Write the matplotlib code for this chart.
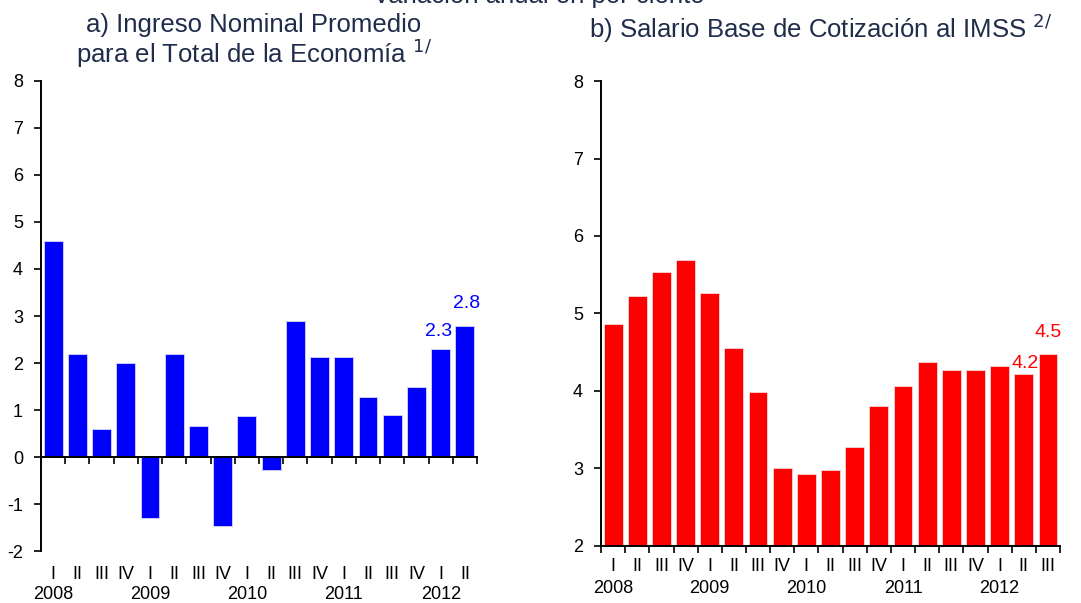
import matplotlib.pyplot as plt
import numpy as np
from matplotlib import transforms

plt.rcParams['font.family'] = ['Liberation Sans', 'DejaVu Sans']
plt.rcParams['axes.unicode_minus'] = False

# a) Ingreso nominal promedio, 2008 I - 2012 II
ingreso = [4.6, 2.2, 0.6, 2.0, -1.3, 2.2, 0.65, -1.47, 0.87, -0.28,
           2.9, 2.13, 2.13, 1.28, 0.9, 1.5, 2.3, 2.78]
# b) Salario base de cotizacion al IMSS, 2008 I - 2012 III
salario = [4.86, 5.22, 5.53, 5.69, 5.27, 4.55, 3.99, 3.01, 2.93, 2.98,
           3.27, 3.81, 4.06, 4.37, 4.27, 4.27, 4.32, 4.22, 4.48]
quarters = ['I', 'II', 'III', 'IV']
years = ['2008', '2009', '2010', '2011', '2012']

title_color = '#1F2D4A'


def draw_panel(ax, values, color, edge, ymin, ymax, labels, lab_y_q, lab_y_year):
    n = len(values)
    x = np.arange(n)
    ax.bar(x, values, width=0.78, color=color, edgecolor=edge, linewidth=0.6, zorder=2)
    ax.set_xlim(-0.5, n - 0.5)
    ax.set_ylim(ymin, ymax)
    ax.set_yticks(range(ymin, ymax + 1))
    for s in ['top', 'right']:
        ax.spines[s].set_visible(False)
    ax.spines['left'].set_linewidth(1.4)
    ax.spines['bottom'].set_linewidth(1.4)
    if ymin < 0:
        ax.spines['bottom'].set_position(('data', 0))
    ax.set_xticks(np.arange(-0.5, n, 1.0))
    ax.set_xticklabels([])
    ax.tick_params(axis='both', direction='out', length=5, width=1.2, labelsize=13)
    ax.tick_params(axis='y', pad=8)
    trans = transforms.blended_transform_factory(ax.transData, ax.transAxes)
    for i in range(n):
        ax.text(i, lab_y_q, quarters[i % 4], transform=trans, ha='center', va='center', fontsize=13)
    for k, yr in enumerate(years):
        ax.text(4 * k, lab_y_year, yr, transform=trans, ha='center', va='center', fontsize=13)
    for i, (txt, dx, dy) in labels.items():
        ax.text(i + dx, values[i] + dy, txt, ha='center', va='bottom', color=color, fontsize=14)


fig = plt.figure(figsize=(10.81, 6.03), dpi=100)

ax1 = fig.add_axes([0.0379, 0.0862, 0.4034, 0.7795])
draw_panel(ax1, ingreso, '#0000FF', '#D8D8F4', -2, 8,
           {16: ('2.3', -0.1, 0.2), 17: ('2.8', 0.05, 0.3)}, -0.051, -0.092)

ax2 = fig.add_axes([0.556, 0.095, 0.4246, 0.7705])
draw_panel(ax2, salario, '#FF0000', '#F4D8D8', 2, 8,
           {17: ('4.2', 0.05, 0.02), 18: ('4.5', 0.0, 0.17)}, -0.045, -0.093)

fig.text(0.498, 0.995, 'Variación anual en por ciento', ha='center', va='baseline',
         fontsize=18.5, color=title_color)
fig.text(0.235, 0.958, 'a) Ingreso Nominal Promedio', ha='center', va='center',
         fontsize=18.5, color=title_color)
fig.text(0.235, 0.911, 'para el Total de la Economía $^{1/}$', ha='center', va='center',
         fontsize=18.5, color=title_color)
fig.text(0.759, 0.953, 'b) Salario Base de Cotización al IMSS $^{2/}$', ha='center', va='center',
         fontsize=18.5, color=title_color)

fig.savefig('out.png', dpi=100)
